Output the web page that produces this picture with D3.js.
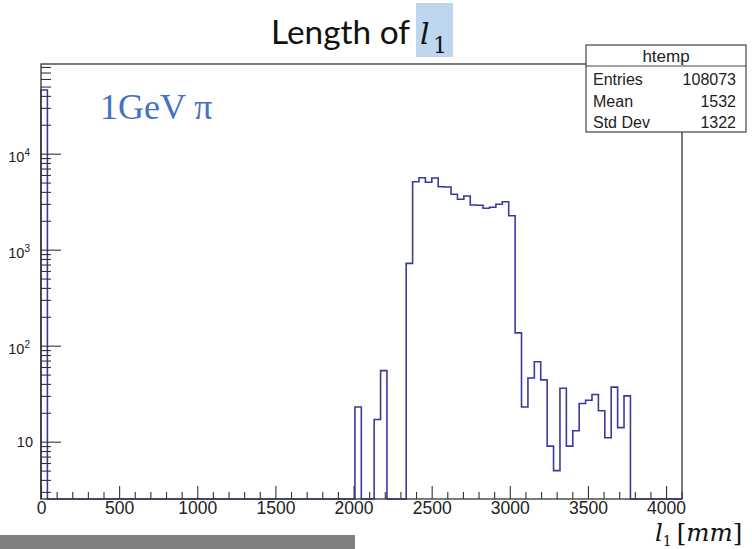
<!DOCTYPE html>
<html>
<head>
<meta charset="utf-8">
<script src="https://cdn.jsdelivr.net/npm/d3@7"></script>
<style>
body { margin: 0; background: #fff; }
svg { display: block; }
</style>
</head>
<body>
<div id="chart"></div>
<script>
// histogram htemp: 100 bins of 41 mm between 0 and 4100
var binLow = 0,
    binHigh = 4100;
var binCounts = [
    46100,    0,    0,    0,    0,    0,    0,    0,    0,    0,
        0,    0,    0,    0,    0,    0,    0,    0,    0,    0,
        0,    0,    0,    0,    0,    0,    0,    0,    0,    0,
        0,    0,    0,    0,    0,    0,    0,    0,    0,    0,
        0,    0,    0,    0,    0,    0,    0,    0,    0,   23,
        0,    0,   17,   55,    0,    0,    0,  720, 5100, 5620,
     5040, 5580, 4530, 4500, 3780, 3350, 3620, 2920, 2900, 2700,
     2770, 2970, 3160, 2260,  136,   23,   46,   68,   44,    9,
        5,   36,    9,   13,   25,   27,   31,   21,   11,   37,
       14,   30,    0,    0,    0,    0,    0,    0,    0,    0
];
var xMajorTicks = [0, 500, 1000, 1500, 2000, 2500, 3000, 3500, 4000];
var yMajorTicks = [10, 100, 1000, 10000];
var statNames = ["Entries", "Mean", "Std Dev"];
var statValues = ["108073", "1532", "1322"];

// size of the page and of the frame
var width = 752,
    height = 549,
    margin = {top: 64, right: 70, bottom: 50, left: 41},
    frameW = width - margin.left - margin.right,
    frameH = height - margin.top - margin.bottom;

var svg = d3.select("#chart").append("svg")
    .attr("width", width)
    .attr("height", height);

var x = d3.scaleLinear()
    .domain([0, 4102])
    .range([margin.left, margin.left + frameW]);

var yMin = 2.53;
var y = d3.scaleLog()
    .domain([yMin, 85900])
    .range([margin.top + frameH, margin.top]);

var histColor = "#3a3a9c",
    axisColor = "#333";

// step outline of the histogram, empty bins sit on the floor
var binW = (binHigh - binLow) / binCounts.length;
var points = [[binLow, 0]];
binCounts.forEach(function(c, i) { points.push([binLow + i * binW, c]); });
points.push([binHigh, 0]);

var step = d3.line()
    .x(function(d) { return x(d[0]); })
    .y(function(d) { return y(Math.max(d[1], yMin)); })
    .curve(d3.curveStepAfter);

svg.append("path")
    .datum(points)
    .attr("d", step)
    .attr("fill", "none")
    .attr("stroke", histColor)
    .attr("stroke-width", 1.6);

// frame
svg.append("rect")
    .attr("x", margin.left)
    .attr("y", margin.top)
    .attr("width", frameW)
    .attr("height", frameH)
    .attr("fill", "none")
    .attr("stroke", axisColor)
    .attr("stroke-width", 1.3);

// x axis, ticks point into the frame
var xMinor = d3.range(0, 4101, 100).filter(function(v) { return v % 500 !== 0; });
var xMinorG = svg.append("g")
    .attr("transform", "translate(0," + (margin.top + frameH) + ")")
    .call(d3.axisBottom(x).tickValues(xMinor).tickSize(-7).tickFormat(""));
xMinorG.select(".domain").remove();

var xAxisG = svg.append("g")
    .attr("transform", "translate(0," + (margin.top + frameH) + ")")
    .call(d3.axisBottom(x)
        .tickValues(xMajorTicks)
        .tickSizeInner(-13)
        .tickSizeOuter(0)
        .tickPadding(3)
        .tickFormat(d3.format("d")));
xAxisG.select(".domain").remove();
xAxisG.selectAll(".tick text")
    .attr("font-family", "'Liberation Sans', Arial, sans-serif")
    .attr("font-size", "17.5px")
    .attr("fill", "#222");

// y axis, log scale
var yMinor = [];
[1, 10, 100, 1000, 10000].forEach(function(p) {
    d3.range(2, 10).forEach(function(m) {
        var v = m * p;
        if (v > yMin && v < 85900) yMinor.push(v);
    });
});
var yMinorG = svg.append("g")
    .attr("transform", "translate(" + margin.left + ",0)")
    .call(d3.axisLeft(y).tickValues(yMinor).tickSize(-10).tickFormat(""));
yMinorG.select(".domain").remove();

var yAxisG = svg.append("g")
    .attr("transform", "translate(" + margin.left + ",0)")
    .call(d3.axisLeft(y)
        .tickValues(yMajorTicks)
        .tickSizeInner(-20)
        .tickSizeOuter(0)
        .tickPadding(8));
yAxisG.select(".domain").remove();
yAxisG.selectAll(".tick text")
    .attr("font-family", "'Liberation Sans', Arial, sans-serif")
    .attr("font-size", "14.5px")
    .attr("fill", "#222")
    .each(function(d) {
        var e = Math.round(Math.log10(d));
        var t = d3.select(this);
        if (e > 1) {
            t.text("10").attr("x", -11).attr("dy", "0.55em");
            t.append("tspan")
                .attr("dy", "-0.6em")
                .attr("font-size", "10px")
                .text(e);
        }
    });

svg.selectAll(".tick line")
    .attr("stroke", axisColor)
    .attr("stroke-width", 1.1);

// stats box
var box = svg.append("g").attr("transform", "translate(586,45)");
box.append("rect")
    .attr("width", 160)
    .attr("height", 87)
    .attr("fill", "#fff")
    .attr("stroke", "#444")
    .attr("stroke-width", 1.2);
box.append("line")
    .attr("x1", 0).attr("x2", 160)
    .attr("y1", 21).attr("y2", 21)
    .attr("stroke", "#444")
    .attr("stroke-width", 1.1);
box.append("text")
    .attr("x", 80)
    .attr("y", 17)
    .attr("text-anchor", "middle")
    .attr("font-family", "'Liberation Sans', Arial, sans-serif")
    .attr("font-size", "17px")
    .attr("fill", "#222")
    .text("htemp");
statNames.forEach(function(name, i) {
    box.append("text")
        .attr("x", 7)
        .attr("y", 40 + i * 21.7)
        .attr("font-family", "'Liberation Sans', Arial, sans-serif")
        .attr("font-size", "16px")
        .attr("fill", "#222")
        .text(name);
    box.append("text")
        .attr("x", 150)
        .attr("y", 40 + i * 21.7)
        .attr("text-anchor", "end")
        .attr("font-family", "'Liberation Sans', Arial, sans-serif")
        .attr("font-size", "16px")
        .attr("fill", "#222")
        .text(statValues[i]);
});

// title with highlighted l1
svg.append("rect")
    .attr("x", 416)
    .attr("y", 3)
    .attr("width", 37)
    .attr("height", 54)
    .attr("fill", "#bfd7ee");
svg.append("text")
    .attr("x", 271)
    .attr("y", 44)
    .attr("font-family", "Lato, 'Open Sans', sans-serif")
    .attr("font-size", "33px")
    .attr("textLength", 139)
    .attr("lengthAdjust", "spacingAndGlyphs")
    .attr("fill", "#111")
    .text("Length of");
svg.append("text")
    .attr("x", 420)
    .attr("y", 44)
    .attr("font-family", "'DejaVu Serif', serif")
    .attr("font-style", "italic")
    .attr("font-size", "30px")
    .attr("fill", "#111")
    .text("l");
svg.append("text")
    .attr("x", 433)
    .attr("y", 53)
    .attr("font-family", "'DejaVu Serif', serif")
    .attr("font-size", "22px")
    .attr("fill", "#111")
    .text("1");

// beam label
svg.append("text")
    .attr("x", 100)
    .attr("y", 119)
    .attr("font-family", "'Liberation Serif', serif")
    .attr("font-size", "36px")
    .attr("fill", "#4472c4")
    .text("1GeV \u03c0");

// x axis title
var xTitle = svg.append("text")
    .attr("x", 655)
    .attr("y", 541)
    .attr("font-family", "'DejaVu Serif', serif")
    .attr("font-size", "24.5px")
    .attr("fill", "#111");
xTitle.append("tspan").attr("font-style", "italic").text("l");
xTitle.append("tspan").attr("font-size", "14px").attr("dy", 5).text("1");
xTitle.append("tspan").attr("dy", -5).attr("dx", 5).text("[");
xTitle.append("tspan").attr("font-style", "italic").text("mm");
xTitle.append("tspan").text("]");

// grey bar at the bottom left
svg.append("rect")
    .attr("x", 0)
    .attr("y", 535)
    .attr("width", 355)
    .attr("height", 14)
    .attr("fill", "#808080");
</script>
</body>
</html>
